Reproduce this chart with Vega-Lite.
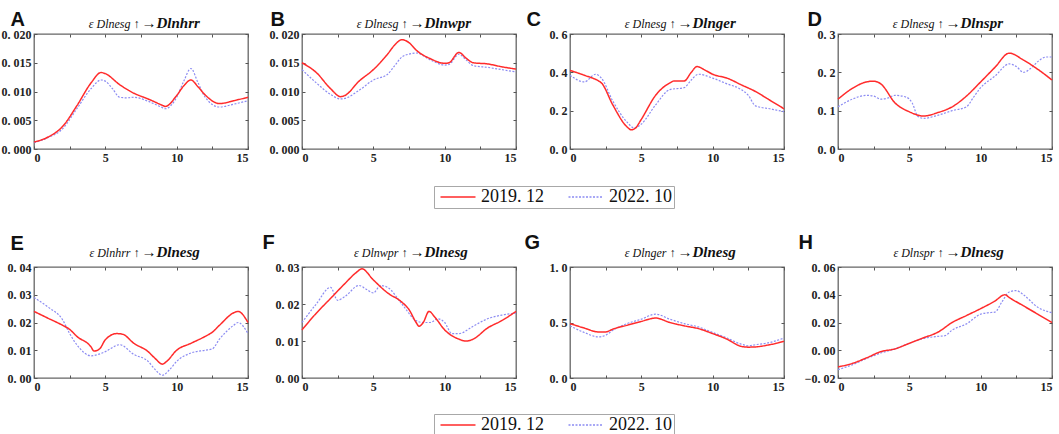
{
  "$schema": "https://vega.github.io/schema/vega-lite/v6.json",
  "description": "Eight small line charts (A-H) comparing 2019.12 and 2022.10 response curves.",
  "padding": {"left": 0, "top": 8, "right": 2, "bottom": 0},
  "data": {
    "values": [
      {"p": "A", "s": "2019. 12", "x": 0, "y": 0.0012}, {"p": "A", "s": "2019. 12", "x": 1, "y": 0.0021}, {"p": "A", "s": "2019. 12", "x": 2, "y": 0.0039}, {"p": "A", "s": "2019. 12", "x": 3, "y": 0.0075}, {"p": "A", "s": "2019. 12", "x": 4, "y": 0.0115}, {"p": "A", "s": "2019. 12", "x": 4.7, "y": 0.0133}, {"p": "A", "s": "2019. 12", "x": 5, "y": 0.0131}, {"p": "A", "s": "2019. 12", "x": 6, "y": 0.0112}, {"p": "A", "s": "2019. 12", "x": 7, "y": 0.0097}, {"p": "A", "s": "2019. 12", "x": 8, "y": 0.0087}, {"p": "A", "s": "2019. 12", "x": 9, "y": 0.0076}, {"p": "A", "s": "2019. 12", "x": 9.2, "y": 0.0074}, {"p": "A", "s": "2019. 12", "x": 10, "y": 0.0093}, {"p": "A", "s": "2019. 12", "x": 10.5, "y": 0.011}, {"p": "A", "s": "2019. 12", "x": 11, "y": 0.012}, {"p": "A", "s": "2019. 12", "x": 11.5, "y": 0.0108}, {"p": "A", "s": "2019. 12", "x": 12, "y": 0.0094}, {"p": "A", "s": "2019. 12", "x": 13, "y": 0.0079}, {"p": "A", "s": "2019. 12", "x": 14, "y": 0.0084}, {"p": "A", "s": "2019. 12", "x": 15, "y": 0.009},
      {"p": "A", "s": "2022. 10", "x": 0, "y": 0.0011}, {"p": "A", "s": "2022. 10", "x": 1, "y": 0.002}, {"p": "A", "s": "2022. 10", "x": 2, "y": 0.0035}, {"p": "A", "s": "2022. 10", "x": 3, "y": 0.007}, {"p": "A", "s": "2022. 10", "x": 4, "y": 0.0105}, {"p": "A", "s": "2022. 10", "x": 4.7, "y": 0.012}, {"p": "A", "s": "2022. 10", "x": 5, "y": 0.0118}, {"p": "A", "s": "2022. 10", "x": 5.5, "y": 0.0105}, {"p": "A", "s": "2022. 10", "x": 6, "y": 0.009}, {"p": "A", "s": "2022. 10", "x": 6.5, "y": 0.0089}, {"p": "A", "s": "2022. 10", "x": 7, "y": 0.009}, {"p": "A", "s": "2022. 10", "x": 8, "y": 0.0083}, {"p": "A", "s": "2022. 10", "x": 9, "y": 0.0072}, {"p": "A", "s": "2022. 10", "x": 9.2, "y": 0.007}, {"p": "A", "s": "2022. 10", "x": 10, "y": 0.009}, {"p": "A", "s": "2022. 10", "x": 10.5, "y": 0.0118}, {"p": "A", "s": "2022. 10", "x": 11, "y": 0.014}, {"p": "A", "s": "2022. 10", "x": 11.5, "y": 0.0115}, {"p": "A", "s": "2022. 10", "x": 12, "y": 0.009}, {"p": "A", "s": "2022. 10", "x": 13, "y": 0.0073}, {"p": "A", "s": "2022. 10", "x": 14, "y": 0.0078}, {"p": "A", "s": "2022. 10", "x": 15, "y": 0.0084},

      {"p": "B", "s": "2019. 12", "x": 0, "y": 0.015}, {"p": "B", "s": "2019. 12", "x": 1, "y": 0.0133}, {"p": "B", "s": "2019. 12", "x": 2, "y": 0.0105}, {"p": "B", "s": "2019. 12", "x": 2.7, "y": 0.0091}, {"p": "B", "s": "2019. 12", "x": 3, "y": 0.0093}, {"p": "B", "s": "2019. 12", "x": 4, "y": 0.0118}, {"p": "B", "s": "2019. 12", "x": 5, "y": 0.0138}, {"p": "B", "s": "2019. 12", "x": 6, "y": 0.0165}, {"p": "B", "s": "2019. 12", "x": 6.5, "y": 0.0181}, {"p": "B", "s": "2019. 12", "x": 7, "y": 0.019}, {"p": "B", "s": "2019. 12", "x": 7.5, "y": 0.0185}, {"p": "B", "s": "2019. 12", "x": 8, "y": 0.0172}, {"p": "B", "s": "2019. 12", "x": 9, "y": 0.0157}, {"p": "B", "s": "2019. 12", "x": 10, "y": 0.0149}, {"p": "B", "s": "2019. 12", "x": 10.3, "y": 0.015}, {"p": "B", "s": "2019. 12", "x": 11, "y": 0.0168}, {"p": "B", "s": "2019. 12", "x": 11.5, "y": 0.0158}, {"p": "B", "s": "2019. 12", "x": 12, "y": 0.015}, {"p": "B", "s": "2019. 12", "x": 13, "y": 0.0148}, {"p": "B", "s": "2019. 12", "x": 14, "y": 0.0143}, {"p": "B", "s": "2019. 12", "x": 15, "y": 0.0139},
      {"p": "B", "s": "2022. 10", "x": 0, "y": 0.0138}, {"p": "B", "s": "2022. 10", "x": 1, "y": 0.0115}, {"p": "B", "s": "2022. 10", "x": 2, "y": 0.0095}, {"p": "B", "s": "2022. 10", "x": 2.7, "y": 0.0087}, {"p": "B", "s": "2022. 10", "x": 3, "y": 0.0088}, {"p": "B", "s": "2022. 10", "x": 4, "y": 0.0102}, {"p": "B", "s": "2022. 10", "x": 5, "y": 0.012}, {"p": "B", "s": "2022. 10", "x": 6, "y": 0.013}, {"p": "B", "s": "2022. 10", "x": 6.5, "y": 0.0145}, {"p": "B", "s": "2022. 10", "x": 7, "y": 0.016}, {"p": "B", "s": "2022. 10", "x": 7.5, "y": 0.0165}, {"p": "B", "s": "2022. 10", "x": 8, "y": 0.0167}, {"p": "B", "s": "2022. 10", "x": 9, "y": 0.0155}, {"p": "B", "s": "2022. 10", "x": 10, "y": 0.0146}, {"p": "B", "s": "2022. 10", "x": 10.3, "y": 0.0147}, {"p": "B", "s": "2022. 10", "x": 11, "y": 0.0165}, {"p": "B", "s": "2022. 10", "x": 11.5, "y": 0.0155}, {"p": "B", "s": "2022. 10", "x": 12, "y": 0.0145}, {"p": "B", "s": "2022. 10", "x": 13, "y": 0.0142}, {"p": "B", "s": "2022. 10", "x": 14, "y": 0.0138}, {"p": "B", "s": "2022. 10", "x": 15, "y": 0.0134},

      {"p": "C", "s": "2019. 12", "x": 0, "y": 0.41}, {"p": "C", "s": "2019. 12", "x": 1, "y": 0.385}, {"p": "C", "s": "2019. 12", "x": 2, "y": 0.355}, {"p": "C", "s": "2019. 12", "x": 2.2, "y": 0.345}, {"p": "C", "s": "2019. 12", "x": 3, "y": 0.23}, {"p": "C", "s": "2019. 12", "x": 4, "y": 0.115}, {"p": "C", "s": "2019. 12", "x": 4.3, "y": 0.1}, {"p": "C", "s": "2019. 12", "x": 4.6, "y": 0.11}, {"p": "C", "s": "2019. 12", "x": 5, "y": 0.155}, {"p": "C", "s": "2019. 12", "x": 6, "y": 0.28}, {"p": "C", "s": "2019. 12", "x": 7, "y": 0.345}, {"p": "C", "s": "2019. 12", "x": 7.3, "y": 0.355}, {"p": "C", "s": "2019. 12", "x": 8, "y": 0.355}, {"p": "C", "s": "2019. 12", "x": 8.5, "y": 0.4}, {"p": "C", "s": "2019. 12", "x": 8.9, "y": 0.43}, {"p": "C", "s": "2019. 12", "x": 9.5, "y": 0.41}, {"p": "C", "s": "2019. 12", "x": 10, "y": 0.39}, {"p": "C", "s": "2019. 12", "x": 11, "y": 0.37}, {"p": "C", "s": "2019. 12", "x": 12, "y": 0.335}, {"p": "C", "s": "2019. 12", "x": 13, "y": 0.3}, {"p": "C", "s": "2019. 12", "x": 14, "y": 0.255}, {"p": "C", "s": "2019. 12", "x": 15, "y": 0.21},
      {"p": "C", "s": "2022. 10", "x": 0, "y": 0.385}, {"p": "C", "s": "2022. 10", "x": 1, "y": 0.35}, {"p": "C", "s": "2022. 10", "x": 1.8, "y": 0.39}, {"p": "C", "s": "2022. 10", "x": 2.2, "y": 0.37}, {"p": "C", "s": "2022. 10", "x": 3, "y": 0.25}, {"p": "C", "s": "2022. 10", "x": 4, "y": 0.14}, {"p": "C", "s": "2022. 10", "x": 4.5, "y": 0.11}, {"p": "C", "s": "2022. 10", "x": 5, "y": 0.13}, {"p": "C", "s": "2022. 10", "x": 6, "y": 0.23}, {"p": "C", "s": "2022. 10", "x": 7, "y": 0.31}, {"p": "C", "s": "2022. 10", "x": 8, "y": 0.32}, {"p": "C", "s": "2022. 10", "x": 8.5, "y": 0.36}, {"p": "C", "s": "2022. 10", "x": 9, "y": 0.39}, {"p": "C", "s": "2022. 10", "x": 10, "y": 0.37}, {"p": "C", "s": "2022. 10", "x": 11, "y": 0.34}, {"p": "C", "s": "2022. 10", "x": 12, "y": 0.31}, {"p": "C", "s": "2022. 10", "x": 12.5, "y": 0.28}, {"p": "C", "s": "2022. 10", "x": 13, "y": 0.225}, {"p": "C", "s": "2022. 10", "x": 14, "y": 0.21}, {"p": "C", "s": "2022. 10", "x": 15, "y": 0.195},

      {"p": "D", "s": "2019. 12", "x": 0, "y": 0.13}, {"p": "D", "s": "2019. 12", "x": 1, "y": 0.158}, {"p": "D", "s": "2019. 12", "x": 2, "y": 0.175}, {"p": "D", "s": "2019. 12", "x": 2.5, "y": 0.177}, {"p": "D", "s": "2019. 12", "x": 3, "y": 0.17}, {"p": "D", "s": "2019. 12", "x": 4, "y": 0.12}, {"p": "D", "s": "2019. 12", "x": 5, "y": 0.097}, {"p": "D", "s": "2019. 12", "x": 6, "y": 0.086}, {"p": "D", "s": "2019. 12", "x": 7, "y": 0.095}, {"p": "D", "s": "2019. 12", "x": 8, "y": 0.11}, {"p": "D", "s": "2019. 12", "x": 9, "y": 0.138}, {"p": "D", "s": "2019. 12", "x": 10, "y": 0.175}, {"p": "D", "s": "2019. 12", "x": 11, "y": 0.213}, {"p": "D", "s": "2019. 12", "x": 12, "y": 0.25}, {"p": "D", "s": "2019. 12", "x": 13, "y": 0.232}, {"p": "D", "s": "2019. 12", "x": 14, "y": 0.208}, {"p": "D", "s": "2019. 12", "x": 15, "y": 0.18},
      {"p": "D", "s": "2022. 10", "x": 0, "y": 0.11}, {"p": "D", "s": "2022. 10", "x": 1, "y": 0.13}, {"p": "D", "s": "2022. 10", "x": 2, "y": 0.14}, {"p": "D", "s": "2022. 10", "x": 2.5, "y": 0.138}, {"p": "D", "s": "2022. 10", "x": 3, "y": 0.13}, {"p": "D", "s": "2022. 10", "x": 3.5, "y": 0.133}, {"p": "D", "s": "2022. 10", "x": 4, "y": 0.14}, {"p": "D", "s": "2022. 10", "x": 4.8, "y": 0.135}, {"p": "D", "s": "2022. 10", "x": 5.2, "y": 0.12}, {"p": "D", "s": "2022. 10", "x": 5.6, "y": 0.085}, {"p": "D", "s": "2022. 10", "x": 6, "y": 0.08}, {"p": "D", "s": "2022. 10", "x": 7, "y": 0.088}, {"p": "D", "s": "2022. 10", "x": 8, "y": 0.1}, {"p": "D", "s": "2022. 10", "x": 9, "y": 0.11}, {"p": "D", "s": "2022. 10", "x": 9.5, "y": 0.135}, {"p": "D", "s": "2022. 10", "x": 10, "y": 0.16}, {"p": "D", "s": "2022. 10", "x": 11, "y": 0.19}, {"p": "D", "s": "2022. 10", "x": 12, "y": 0.222}, {"p": "D", "s": "2022. 10", "x": 12.5, "y": 0.215}, {"p": "D", "s": "2022. 10", "x": 13, "y": 0.2}, {"p": "D", "s": "2022. 10", "x": 13.5, "y": 0.21}, {"p": "D", "s": "2022. 10", "x": 14, "y": 0.228}, {"p": "D", "s": "2022. 10", "x": 14.6, "y": 0.24}, {"p": "D", "s": "2022. 10", "x": 15, "y": 0.24},

      {"p": "E", "s": "2019. 12", "x": 0, "y": 0.024}, {"p": "E", "s": "2019. 12", "x": 1, "y": 0.0215}, {"p": "E", "s": "2019. 12", "x": 2, "y": 0.019}, {"p": "E", "s": "2019. 12", "x": 2.5, "y": 0.0175}, {"p": "E", "s": "2019. 12", "x": 3, "y": 0.015}, {"p": "E", "s": "2019. 12", "x": 4, "y": 0.0112}, {"p": "E", "s": "2019. 12", "x": 4.2, "y": 0.0097}, {"p": "E", "s": "2019. 12", "x": 4.6, "y": 0.0105}, {"p": "E", "s": "2019. 12", "x": 5, "y": 0.0138}, {"p": "E", "s": "2019. 12", "x": 5.8, "y": 0.016}, {"p": "E", "s": "2019. 12", "x": 6.2, "y": 0.0158}, {"p": "E", "s": "2019. 12", "x": 7, "y": 0.0125}, {"p": "E", "s": "2019. 12", "x": 8, "y": 0.0095}, {"p": "E", "s": "2019. 12", "x": 8.5, "y": 0.007}, {"p": "E", "s": "2019. 12", "x": 9, "y": 0.005}, {"p": "E", "s": "2019. 12", "x": 9.3, "y": 0.006}, {"p": "E", "s": "2019. 12", "x": 10, "y": 0.01}, {"p": "E", "s": "2019. 12", "x": 11, "y": 0.0125}, {"p": "E", "s": "2019. 12", "x": 12, "y": 0.015}, {"p": "E", "s": "2019. 12", "x": 12.5, "y": 0.0165}, {"p": "E", "s": "2019. 12", "x": 13, "y": 0.019}, {"p": "E", "s": "2019. 12", "x": 14, "y": 0.0235}, {"p": "E", "s": "2019. 12", "x": 14.3, "y": 0.024}, {"p": "E", "s": "2019. 12", "x": 15, "y": 0.02},
      {"p": "E", "s": "2022. 10", "x": 0, "y": 0.029}, {"p": "E", "s": "2022. 10", "x": 1, "y": 0.0255}, {"p": "E", "s": "2022. 10", "x": 2, "y": 0.021}, {"p": "E", "s": "2022. 10", "x": 2.5, "y": 0.016}, {"p": "E", "s": "2022. 10", "x": 3, "y": 0.012}, {"p": "E", "s": "2022. 10", "x": 4, "y": 0.008}, {"p": "E", "s": "2022. 10", "x": 4.5, "y": 0.0085}, {"p": "E", "s": "2022. 10", "x": 5, "y": 0.0095}, {"p": "E", "s": "2022. 10", "x": 6, "y": 0.012}, {"p": "E", "s": "2022. 10", "x": 7, "y": 0.0085}, {"p": "E", "s": "2022. 10", "x": 8, "y": 0.006}, {"p": "E", "s": "2022. 10", "x": 8.5, "y": 0.003}, {"p": "E", "s": "2022. 10", "x": 9, "y": 0.001}, {"p": "E", "s": "2022. 10", "x": 9.5, "y": 0.003}, {"p": "E", "s": "2022. 10", "x": 10, "y": 0.006}, {"p": "E", "s": "2022. 10", "x": 11, "y": 0.009}, {"p": "E", "s": "2022. 10", "x": 12, "y": 0.01}, {"p": "E", "s": "2022. 10", "x": 12.5, "y": 0.0105}, {"p": "E", "s": "2022. 10", "x": 13, "y": 0.014}, {"p": "E", "s": "2022. 10", "x": 14, "y": 0.019}, {"p": "E", "s": "2022. 10", "x": 14.3, "y": 0.02}, {"p": "E", "s": "2022. 10", "x": 15, "y": 0.016},

      {"p": "F", "s": "2019. 12", "x": 0, "y": 0.013}, {"p": "F", "s": "2019. 12", "x": 1, "y": 0.0175}, {"p": "F", "s": "2019. 12", "x": 2, "y": 0.0215}, {"p": "F", "s": "2019. 12", "x": 3, "y": 0.0255}, {"p": "F", "s": "2019. 12", "x": 3.8, "y": 0.0285}, {"p": "F", "s": "2019. 12", "x": 4.2, "y": 0.0295}, {"p": "F", "s": "2019. 12", "x": 5, "y": 0.0265}, {"p": "F", "s": "2019. 12", "x": 6, "y": 0.023}, {"p": "F", "s": "2019. 12", "x": 7, "y": 0.0205}, {"p": "F", "s": "2019. 12", "x": 7.5, "y": 0.0185}, {"p": "F", "s": "2019. 12", "x": 8, "y": 0.015}, {"p": "F", "s": "2019. 12", "x": 8.2, "y": 0.014}, {"p": "F", "s": "2019. 12", "x": 8.5, "y": 0.015}, {"p": "F", "s": "2019. 12", "x": 8.9, "y": 0.018}, {"p": "F", "s": "2019. 12", "x": 9.3, "y": 0.0165}, {"p": "F", "s": "2019. 12", "x": 10, "y": 0.013}, {"p": "F", "s": "2019. 12", "x": 11, "y": 0.0105}, {"p": "F", "s": "2019. 12", "x": 11.5, "y": 0.01}, {"p": "F", "s": "2019. 12", "x": 12, "y": 0.0105}, {"p": "F", "s": "2019. 12", "x": 13, "y": 0.0135}, {"p": "F", "s": "2019. 12", "x": 14, "y": 0.0155}, {"p": "F", "s": "2019. 12", "x": 15, "y": 0.018},
      {"p": "F", "s": "2022. 10", "x": 0, "y": 0.015}, {"p": "F", "s": "2022. 10", "x": 1, "y": 0.02}, {"p": "F", "s": "2022. 10", "x": 2, "y": 0.0245}, {"p": "F", "s": "2022. 10", "x": 2.5, "y": 0.021}, {"p": "F", "s": "2022. 10", "x": 3, "y": 0.022}, {"p": "F", "s": "2022. 10", "x": 4, "y": 0.025}, {"p": "F", "s": "2022. 10", "x": 4.5, "y": 0.024}, {"p": "F", "s": "2022. 10", "x": 5, "y": 0.023}, {"p": "F", "s": "2022. 10", "x": 5.5, "y": 0.025}, {"p": "F", "s": "2022. 10", "x": 6, "y": 0.0245}, {"p": "F", "s": "2022. 10", "x": 7, "y": 0.02}, {"p": "F", "s": "2022. 10", "x": 8, "y": 0.0155}, {"p": "F", "s": "2022. 10", "x": 8.5, "y": 0.015}, {"p": "F", "s": "2022. 10", "x": 9, "y": 0.015}, {"p": "F", "s": "2022. 10", "x": 9.5, "y": 0.016}, {"p": "F", "s": "2022. 10", "x": 10, "y": 0.015}, {"p": "F", "s": "2022. 10", "x": 10.5, "y": 0.012}, {"p": "F", "s": "2022. 10", "x": 11, "y": 0.012}, {"p": "F", "s": "2022. 10", "x": 12, "y": 0.014}, {"p": "F", "s": "2022. 10", "x": 13, "y": 0.016}, {"p": "F", "s": "2022. 10", "x": 14, "y": 0.017}, {"p": "F", "s": "2022. 10", "x": 15, "y": 0.0175},

      {"p": "G", "s": "2019. 12", "x": 0, "y": 0.49}, {"p": "G", "s": "2019. 12", "x": 1, "y": 0.45}, {"p": "G", "s": "2019. 12", "x": 2, "y": 0.415}, {"p": "G", "s": "2019. 12", "x": 2.5, "y": 0.415}, {"p": "G", "s": "2019. 12", "x": 3, "y": 0.44}, {"p": "G", "s": "2019. 12", "x": 4, "y": 0.475}, {"p": "G", "s": "2019. 12", "x": 5, "y": 0.51}, {"p": "G", "s": "2019. 12", "x": 6, "y": 0.54}, {"p": "G", "s": "2019. 12", "x": 7, "y": 0.5}, {"p": "G", "s": "2019. 12", "x": 8, "y": 0.47}, {"p": "G", "s": "2019. 12", "x": 9, "y": 0.445}, {"p": "G", "s": "2019. 12", "x": 10, "y": 0.4}, {"p": "G", "s": "2019. 12", "x": 11, "y": 0.35}, {"p": "G", "s": "2019. 12", "x": 12, "y": 0.285}, {"p": "G", "s": "2019. 12", "x": 12.5, "y": 0.278}, {"p": "G", "s": "2019. 12", "x": 13, "y": 0.28}, {"p": "G", "s": "2019. 12", "x": 14, "y": 0.3}, {"p": "G", "s": "2019. 12", "x": 15, "y": 0.33},
      {"p": "G", "s": "2022. 10", "x": 0, "y": 0.47}, {"p": "G", "s": "2022. 10", "x": 1, "y": 0.41}, {"p": "G", "s": "2022. 10", "x": 2, "y": 0.37}, {"p": "G", "s": "2022. 10", "x": 2.5, "y": 0.385}, {"p": "G", "s": "2022. 10", "x": 3, "y": 0.43}, {"p": "G", "s": "2022. 10", "x": 4, "y": 0.49}, {"p": "G", "s": "2022. 10", "x": 5, "y": 0.53}, {"p": "G", "s": "2022. 10", "x": 6, "y": 0.575}, {"p": "G", "s": "2022. 10", "x": 7, "y": 0.53}, {"p": "G", "s": "2022. 10", "x": 8, "y": 0.49}, {"p": "G", "s": "2022. 10", "x": 9, "y": 0.46}, {"p": "G", "s": "2022. 10", "x": 10, "y": 0.41}, {"p": "G", "s": "2022. 10", "x": 11, "y": 0.36}, {"p": "G", "s": "2022. 10", "x": 12, "y": 0.305}, {"p": "G", "s": "2022. 10", "x": 12.5, "y": 0.29}, {"p": "G", "s": "2022. 10", "x": 13, "y": 0.3}, {"p": "G", "s": "2022. 10", "x": 14, "y": 0.32}, {"p": "G", "s": "2022. 10", "x": 15, "y": 0.36},

      {"p": "H", "s": "2019. 12", "x": 0, "y": -0.012}, {"p": "H", "s": "2019. 12", "x": 1, "y": -0.0095}, {"p": "H", "s": "2019. 12", "x": 2, "y": -0.0055}, {"p": "H", "s": "2019. 12", "x": 3, "y": -0.001}, {"p": "H", "s": "2019. 12", "x": 4, "y": 0.001}, {"p": "H", "s": "2019. 12", "x": 5, "y": 0.005}, {"p": "H", "s": "2019. 12", "x": 6, "y": 0.009}, {"p": "H", "s": "2019. 12", "x": 7, "y": 0.013}, {"p": "H", "s": "2019. 12", "x": 8, "y": 0.02}, {"p": "H", "s": "2019. 12", "x": 9, "y": 0.025}, {"p": "H", "s": "2019. 12", "x": 10, "y": 0.03}, {"p": "H", "s": "2019. 12", "x": 11, "y": 0.0355}, {"p": "H", "s": "2019. 12", "x": 11.7, "y": 0.04}, {"p": "H", "s": "2019. 12", "x": 12, "y": 0.038}, {"p": "H", "s": "2019. 12", "x": 13, "y": 0.032}, {"p": "H", "s": "2019. 12", "x": 14, "y": 0.026}, {"p": "H", "s": "2019. 12", "x": 15, "y": 0.02},
      {"p": "H", "s": "2022. 10", "x": 0, "y": -0.014}, {"p": "H", "s": "2022. 10", "x": 1, "y": -0.0105}, {"p": "H", "s": "2022. 10", "x": 2, "y": -0.006}, {"p": "H", "s": "2022. 10", "x": 3, "y": -0.002}, {"p": "H", "s": "2022. 10", "x": 4, "y": 0.001}, {"p": "H", "s": "2022. 10", "x": 5, "y": 0.005}, {"p": "H", "s": "2022. 10", "x": 6, "y": 0.0085}, {"p": "H", "s": "2022. 10", "x": 7, "y": 0.01}, {"p": "H", "s": "2022. 10", "x": 7.5, "y": 0.0105}, {"p": "H", "s": "2022. 10", "x": 8, "y": 0.0145}, {"p": "H", "s": "2022. 10", "x": 9, "y": 0.019}, {"p": "H", "s": "2022. 10", "x": 10, "y": 0.026}, {"p": "H", "s": "2022. 10", "x": 10.5, "y": 0.027}, {"p": "H", "s": "2022. 10", "x": 11, "y": 0.0275}, {"p": "H", "s": "2022. 10", "x": 11.5, "y": 0.035}, {"p": "H", "s": "2022. 10", "x": 12, "y": 0.042}, {"p": "H", "s": "2022. 10", "x": 12.5, "y": 0.043}, {"p": "H", "s": "2022. 10", "x": 13, "y": 0.04}, {"p": "H", "s": "2022. 10", "x": 14, "y": 0.031}, {"p": "H", "s": "2022. 10", "x": 15, "y": 0.027}
    ]
  },
  "vconcat": [
    {
      "spacing": 54,
      "bounds": "flush",
      "hconcat": [
        {
          "width": 214, "height": 115,
          "transform": [{"filter": "datum.p === 'A'"}],
          "encoding": {
            "color": {"field": "s", "type": "nominal", "scale": {"domain": ["2019. 12", "2022. 10"], "range": ["#ff2b2b", "#8c8cf2"]}, "legend": {"orient": "none", "legendX": 400, "legendY": 152}},
            "strokeDash": {"field": "s", "type": "nominal", "scale": {"domain": ["2019. 12", "2022. 10"], "range": [[1, 0], [2, 1.5]]}, "legend": {"orient": "none", "legendX": 400, "legendY": 152}}
          },
          "layer": [
            {
              "transform": [{"filter": "datum.s === '2022. 10'"}],
              "mark": {"type": "line", "interpolate": "monotone", "strokeWidth": 1.2},
              "encoding": {
                "x": {"field": "x", "type": "quantitative", "scale": {"domain": [0, 15], "nice": false}, "axis": {"orient": "top", "values": [0, 2.5, 5, 7.5, 10, 12.5, 15], "labels": false, "title": "→Dlnhrr", "titleX": 107, "titleY": -7, "titleAlign": "left", "titleBaseline": "alphabetic", "titleFont": "Liberation Serif", "titleFontStyle": "italic", "titleFontWeight": "bold", "titleFontSize": 15}},
                "y": {"field": "y", "type": "quantitative", "scale": {"domain": [0, 0.02], "nice": false}, "axis": {"orient": "right", "values": [0, 0.005, 0.01, 0.015, 0.02], "labels": false, "title": "ε Dlnesg ↑", "titleAngle": 0, "titleX": -109, "titleY": -7, "titleAlign": "right", "titleBaseline": "alphabetic", "titleFont": "Liberation Serif", "titleFontStyle": "italic", "titleFontWeight": "normal", "titleFontSize": 12}}
              }
            },
            {
              "transform": [{"filter": "datum.s === '2019. 12'"}],
              "mark": {"type": "line", "interpolate": "monotone", "strokeWidth": 1.5},
              "encoding": {
                "x": {"field": "x", "type": "quantitative", "scale": {"domain": [0, 15], "nice": false}, "axis": {"orient": "bottom", "values": [0, 2.5, 5, 7.5, 10, 12.5, 15], "labelExpr": "datum.value % 5 === 0 ? datum.label : ''", "title": null}},
                "y": {"field": "y", "type": "quantitative", "scale": {"domain": [0, 0.02], "nice": false}, "axis": {"orient": "left", "values": [0, 0.005, 0.01, 0.015, 0.02], "labelExpr": "replace(format(datum.value, '.3f'), '.', '. ')", "title": "A", "titleAngle": 0, "titleX": -24, "titleY": -9, "titleAlign": "left", "titleBaseline": "alphabetic", "titleFont": "Liberation Sans", "titleFontWeight": "bold", "titleFontSize": 20}}
              }
            }
          ],
          "resolve": {"axis": {"x": "independent", "y": "independent"}}
        },
        {
          "width": 214, "height": 115,
          "transform": [{"filter": "datum.p === 'B'"}],
          "encoding": {
            "color": {"field": "s", "type": "nominal", "scale": {"domain": ["2019. 12", "2022. 10"], "range": ["#ff2b2b", "#8c8cf2"]}},
            "strokeDash": {"field": "s", "type": "nominal", "scale": {"domain": ["2019. 12", "2022. 10"], "range": [[1, 0], [2, 1.5]]}}
          },
          "layer": [
            {
              "transform": [{"filter": "datum.s === '2022. 10'"}],
              "mark": {"type": "line", "interpolate": "monotone", "strokeWidth": 1.2},
              "encoding": {
                "x": {"field": "x", "type": "quantitative", "scale": {"domain": [0, 15], "nice": false}, "axis": {"orient": "top", "values": [0, 2.5, 5, 7.5, 10, 12.5, 15], "labels": false, "title": "→Dlnwpr", "titleX": 107, "titleY": -7, "titleAlign": "left", "titleBaseline": "alphabetic", "titleFont": "Liberation Serif", "titleFontStyle": "italic", "titleFontWeight": "bold", "titleFontSize": 15}},
                "y": {"field": "y", "type": "quantitative", "scale": {"domain": [0, 0.02], "nice": false}, "axis": {"orient": "right", "values": [0, 0.005, 0.01, 0.015, 0.02], "labels": false, "title": "ε Dlnesg ↑", "titleAngle": 0, "titleX": -109, "titleY": -7, "titleAlign": "right", "titleBaseline": "alphabetic", "titleFont": "Liberation Serif", "titleFontStyle": "italic", "titleFontWeight": "normal", "titleFontSize": 12}}
              }
            },
            {
              "transform": [{"filter": "datum.s === '2019. 12'"}],
              "mark": {"type": "line", "interpolate": "monotone", "strokeWidth": 1.5},
              "encoding": {
                "x": {"field": "x", "type": "quantitative", "scale": {"domain": [0, 15], "nice": false}, "axis": {"orient": "bottom", "values": [0, 2.5, 5, 7.5, 10, 12.5, 15], "labelExpr": "datum.value % 5 === 0 ? datum.label : ''", "title": null}},
                "y": {"field": "y", "type": "quantitative", "scale": {"domain": [0, 0.02], "nice": false}, "axis": {"orient": "left", "values": [0, 0.005, 0.01, 0.015, 0.02], "labelExpr": "replace(format(datum.value, '.3f'), '.', '. ')", "title": "B", "titleAngle": 0, "titleX": -32, "titleY": -9, "titleAlign": "left", "titleBaseline": "alphabetic", "titleFont": "Liberation Sans", "titleFontWeight": "bold", "titleFontSize": 20}}
              }
            }
          ],
          "resolve": {"axis": {"x": "independent", "y": "independent"}}
        },
        {
          "width": 214, "height": 115,
          "transform": [{"filter": "datum.p === 'C'"}],
          "encoding": {
            "color": {"field": "s", "type": "nominal", "scale": {"domain": ["2019. 12", "2022. 10"], "range": ["#ff2b2b", "#8c8cf2"]}},
            "strokeDash": {"field": "s", "type": "nominal", "scale": {"domain": ["2019. 12", "2022. 10"], "range": [[1, 0], [2, 1.5]]}}
          },
          "layer": [
            {
              "transform": [{"filter": "datum.s === '2022. 10'"}],
              "mark": {"type": "line", "interpolate": "monotone", "strokeWidth": 1.2},
              "encoding": {
                "x": {"field": "x", "type": "quantitative", "scale": {"domain": [0, 15], "nice": false}, "axis": {"orient": "top", "values": [0, 2.5, 5, 7.5, 10, 12.5, 15], "labels": false, "title": "→Dlnger", "titleX": 107, "titleY": -7, "titleAlign": "left", "titleBaseline": "alphabetic", "titleFont": "Liberation Serif", "titleFontStyle": "italic", "titleFontWeight": "bold", "titleFontSize": 15}},
                "y": {"field": "y", "type": "quantitative", "scale": {"domain": [0, 0.6], "nice": false}, "axis": {"orient": "right", "values": [0, 0.2, 0.4, 0.6], "labels": false, "title": "ε Dlnesg ↑", "titleAngle": 0, "titleX": -109, "titleY": -7, "titleAlign": "right", "titleBaseline": "alphabetic", "titleFont": "Liberation Serif", "titleFontStyle": "italic", "titleFontWeight": "normal", "titleFontSize": 12}}
              }
            },
            {
              "transform": [{"filter": "datum.s === '2019. 12'"}],
              "mark": {"type": "line", "interpolate": "monotone", "strokeWidth": 1.5},
              "encoding": {
                "x": {"field": "x", "type": "quantitative", "scale": {"domain": [0, 15], "nice": false}, "axis": {"orient": "bottom", "values": [0, 2.5, 5, 7.5, 10, 12.5, 15], "labelExpr": "datum.value % 5 === 0 ? datum.label : ''", "title": null}},
                "y": {"field": "y", "type": "quantitative", "scale": {"domain": [0, 0.6], "nice": false}, "axis": {"orient": "left", "values": [0, 0.2, 0.4, 0.6], "labelExpr": "replace(format(datum.value, '.1f'), '.', '. ')", "title": "C", "titleAngle": 0, "titleX": -44, "titleY": -9, "titleAlign": "left", "titleBaseline": "alphabetic", "titleFont": "Liberation Sans", "titleFontWeight": "bold", "titleFontSize": 20}}
              }
            }
          ],
          "resolve": {"axis": {"x": "independent", "y": "independent"}}
        },
        {
          "width": 214, "height": 115,
          "transform": [{"filter": "datum.p === 'D'"}],
          "encoding": {
            "color": {"field": "s", "type": "nominal", "scale": {"domain": ["2019. 12", "2022. 10"], "range": ["#ff2b2b", "#8c8cf2"]}},
            "strokeDash": {"field": "s", "type": "nominal", "scale": {"domain": ["2019. 12", "2022. 10"], "range": [[1, 0], [2, 1.5]]}}
          },
          "layer": [
            {
              "transform": [{"filter": "datum.s === '2022. 10'"}],
              "mark": {"type": "line", "interpolate": "monotone", "strokeWidth": 1.2},
              "encoding": {
                "x": {"field": "x", "type": "quantitative", "scale": {"domain": [0, 15], "nice": false}, "axis": {"orient": "top", "values": [0, 2.5, 5, 7.5, 10, 12.5, 15], "labels": false, "title": "→Dlnspr", "titleX": 107, "titleY": -7, "titleAlign": "left", "titleBaseline": "alphabetic", "titleFont": "Liberation Serif", "titleFontStyle": "italic", "titleFontWeight": "bold", "titleFontSize": 15}},
                "y": {"field": "y", "type": "quantitative", "scale": {"domain": [0, 0.3], "nice": false}, "axis": {"orient": "right", "values": [0, 0.1, 0.2, 0.3], "labels": false, "title": "ε Dlnesg ↑", "titleAngle": 0, "titleX": -109, "titleY": -7, "titleAlign": "right", "titleBaseline": "alphabetic", "titleFont": "Liberation Serif", "titleFontStyle": "italic", "titleFontWeight": "normal", "titleFontSize": 12}}
              }
            },
            {
              "transform": [{"filter": "datum.s === '2019. 12'"}],
              "mark": {"type": "line", "interpolate": "monotone", "strokeWidth": 1.5},
              "encoding": {
                "x": {"field": "x", "type": "quantitative", "scale": {"domain": [0, 15], "nice": false}, "axis": {"orient": "bottom", "values": [0, 2.5, 5, 7.5, 10, 12.5, 15], "labelExpr": "datum.value % 5 === 0 ? datum.label : ''", "title": null}},
                "y": {"field": "y", "type": "quantitative", "scale": {"domain": [0, 0.3], "nice": false}, "axis": {"orient": "left", "values": [0, 0.1, 0.2, 0.3], "labelExpr": "replace(format(datum.value, '.1f'), '.', '. ')", "title": "D", "titleAngle": 0, "titleX": -31, "titleY": -9, "titleAlign": "left", "titleBaseline": "alphabetic", "titleFont": "Liberation Sans", "titleFontWeight": "bold", "titleFontSize": 20}}
              }
            }
          ],
          "resolve": {"axis": {"x": "independent", "y": "independent"}}
        }
      ]
    },
    {
      "spacing": 54,
      "bounds": "flush",
      "hconcat": [
        {
          "width": 214, "height": 111,
          "transform": [{"filter": "datum.p === 'E'"}],
          "encoding": {
            "color": {"field": "s", "type": "nominal", "scale": {"domain": ["2019. 12", "2022. 10"], "range": ["#ff2b2b", "#8c8cf2"]}, "legend": {"orient": "none", "legendX": 400, "legendY": 147}},
            "strokeDash": {"field": "s", "type": "nominal", "scale": {"domain": ["2019. 12", "2022. 10"], "range": [[1, 0], [2, 1.5]]}, "legend": {"orient": "none", "legendX": 400, "legendY": 147}}
          },
          "layer": [
            {
              "transform": [{"filter": "datum.s === '2022. 10'"}],
              "mark": {"type": "line", "interpolate": "monotone", "strokeWidth": 1.2},
              "encoding": {
                "x": {"field": "x", "type": "quantitative", "scale": {"domain": [0, 15], "nice": false}, "axis": {"orient": "top", "values": [0, 2.5, 5, 7.5, 10, 12.5, 15], "labels": false, "title": "→Dlnesg", "titleX": 107, "titleY": -11, "titleAlign": "left", "titleBaseline": "alphabetic", "titleFont": "Liberation Serif", "titleFontStyle": "italic", "titleFontWeight": "bold", "titleFontSize": 15}},
                "y": {"field": "y", "type": "quantitative", "scale": {"domain": [0, 0.04], "nice": false}, "axis": {"orient": "right", "values": [0, 0.01, 0.02, 0.03, 0.04], "labels": false, "title": "ε Dlnhrr ↑", "titleAngle": 0, "titleX": -109, "titleY": -11, "titleAlign": "right", "titleBaseline": "alphabetic", "titleFont": "Liberation Serif", "titleFontStyle": "italic", "titleFontWeight": "normal", "titleFontSize": 12}}
              }
            },
            {
              "transform": [{"filter": "datum.s === '2019. 12'"}],
              "mark": {"type": "line", "interpolate": "monotone", "strokeWidth": 1.5},
              "encoding": {
                "x": {"field": "x", "type": "quantitative", "scale": {"domain": [0, 15], "nice": false}, "axis": {"orient": "bottom", "values": [0, 2.5, 5, 7.5, 10, 12.5, 15], "labelExpr": "datum.value % 5 === 0 ? datum.label : ''", "title": null}},
                "y": {"field": "y", "type": "quantitative", "scale": {"domain": [0, 0.04], "nice": false}, "axis": {"orient": "left", "values": [0, 0.01, 0.02, 0.03, 0.04], "labelExpr": "replace(format(datum.value, '.2f'), '.', '. ')", "title": "E", "titleAngle": 0, "titleX": -24, "titleY": -18, "titleAlign": "left", "titleBaseline": "alphabetic", "titleFont": "Liberation Sans", "titleFontWeight": "bold", "titleFontSize": 20}}
              }
            }
          ],
          "resolve": {"axis": {"x": "independent", "y": "independent"}}
        },
        {
          "width": 214, "height": 111,
          "transform": [{"filter": "datum.p === 'F'"}],
          "encoding": {
            "color": {"field": "s", "type": "nominal", "scale": {"domain": ["2019. 12", "2022. 10"], "range": ["#ff2b2b", "#8c8cf2"]}},
            "strokeDash": {"field": "s", "type": "nominal", "scale": {"domain": ["2019. 12", "2022. 10"], "range": [[1, 0], [2, 1.5]]}}
          },
          "layer": [
            {
              "transform": [{"filter": "datum.s === '2022. 10'"}],
              "mark": {"type": "line", "interpolate": "monotone", "strokeWidth": 1.2},
              "encoding": {
                "x": {"field": "x", "type": "quantitative", "scale": {"domain": [0, 15], "nice": false}, "axis": {"orient": "top", "values": [0, 2.5, 5, 7.5, 10, 12.5, 15], "labels": false, "title": "→Dlnesg", "titleX": 107, "titleY": -11, "titleAlign": "left", "titleBaseline": "alphabetic", "titleFont": "Liberation Serif", "titleFontStyle": "italic", "titleFontWeight": "bold", "titleFontSize": 15}},
                "y": {"field": "y", "type": "quantitative", "scale": {"domain": [0, 0.03], "nice": false}, "axis": {"orient": "right", "values": [0, 0.01, 0.02, 0.03], "labels": false, "title": "ε Dlnwpr ↑", "titleAngle": 0, "titleX": -109, "titleY": -11, "titleAlign": "right", "titleBaseline": "alphabetic", "titleFont": "Liberation Serif", "titleFontStyle": "italic", "titleFontWeight": "normal", "titleFontSize": 12}}
              }
            },
            {
              "transform": [{"filter": "datum.s === '2019. 12'"}],
              "mark": {"type": "line", "interpolate": "monotone", "strokeWidth": 1.5},
              "encoding": {
                "x": {"field": "x", "type": "quantitative", "scale": {"domain": [0, 15], "nice": false}, "axis": {"orient": "bottom", "values": [0, 2.5, 5, 7.5, 10, 12.5, 15], "labelExpr": "datum.value % 5 === 0 ? datum.label : ''", "title": null}},
                "y": {"field": "y", "type": "quantitative", "scale": {"domain": [0, 0.03], "nice": false}, "axis": {"orient": "left", "values": [0, 0.01, 0.02, 0.03], "labelExpr": "replace(format(datum.value, '.2f'), '.', '. ')", "title": "F", "titleAngle": 0, "titleX": -40, "titleY": -19, "titleAlign": "left", "titleBaseline": "alphabetic", "titleFont": "Liberation Sans", "titleFontWeight": "bold", "titleFontSize": 20}}
              }
            }
          ],
          "resolve": {"axis": {"x": "independent", "y": "independent"}}
        },
        {
          "width": 214, "height": 111,
          "transform": [{"filter": "datum.p === 'G'"}],
          "encoding": {
            "color": {"field": "s", "type": "nominal", "scale": {"domain": ["2019. 12", "2022. 10"], "range": ["#ff2b2b", "#8c8cf2"]}},
            "strokeDash": {"field": "s", "type": "nominal", "scale": {"domain": ["2019. 12", "2022. 10"], "range": [[1, 0], [2, 1.5]]}}
          },
          "layer": [
            {
              "transform": [{"filter": "datum.s === '2022. 10'"}],
              "mark": {"type": "line", "interpolate": "monotone", "strokeWidth": 1.2},
              "encoding": {
                "x": {"field": "x", "type": "quantitative", "scale": {"domain": [0, 15], "nice": false}, "axis": {"orient": "top", "values": [0, 2.5, 5, 7.5, 10, 12.5, 15], "labels": false, "title": "→Dlnesg", "titleX": 107, "titleY": -11, "titleAlign": "left", "titleBaseline": "alphabetic", "titleFont": "Liberation Serif", "titleFontStyle": "italic", "titleFontWeight": "bold", "titleFontSize": 15}},
                "y": {"field": "y", "type": "quantitative", "scale": {"domain": [0, 1], "nice": false}, "axis": {"orient": "right", "values": [0, 0.5, 1], "labels": false, "title": "ε Dlnger ↑", "titleAngle": 0, "titleX": -109, "titleY": -11, "titleAlign": "right", "titleBaseline": "alphabetic", "titleFont": "Liberation Serif", "titleFontStyle": "italic", "titleFontWeight": "normal", "titleFontSize": 12}}
              }
            },
            {
              "transform": [{"filter": "datum.s === '2019. 12'"}],
              "mark": {"type": "line", "interpolate": "monotone", "strokeWidth": 1.5},
              "encoding": {
                "x": {"field": "x", "type": "quantitative", "scale": {"domain": [0, 15], "nice": false}, "axis": {"orient": "bottom", "values": [0, 2.5, 5, 7.5, 10, 12.5, 15], "labelExpr": "datum.value % 5 === 0 ? datum.label : ''", "title": null}},
                "y": {"field": "y", "type": "quantitative", "scale": {"domain": [0, 1], "nice": false}, "axis": {"orient": "left", "values": [0, 0.5, 1], "labelExpr": "replace(format(datum.value, '.1f'), '.', '. ')", "title": "G", "titleAngle": 0, "titleX": -46, "titleY": -19, "titleAlign": "left", "titleBaseline": "alphabetic", "titleFont": "Liberation Sans", "titleFontWeight": "bold", "titleFontSize": 20}}
              }
            }
          ],
          "resolve": {"axis": {"x": "independent", "y": "independent"}}
        },
        {
          "width": 214, "height": 111,
          "transform": [{"filter": "datum.p === 'H'"}],
          "encoding": {
            "color": {"field": "s", "type": "nominal", "scale": {"domain": ["2019. 12", "2022. 10"], "range": ["#ff2b2b", "#8c8cf2"]}},
            "strokeDash": {"field": "s", "type": "nominal", "scale": {"domain": ["2019. 12", "2022. 10"], "range": [[1, 0], [2, 1.5]]}}
          },
          "layer": [
            {
              "transform": [{"filter": "datum.s === '2022. 10'"}],
              "mark": {"type": "line", "interpolate": "monotone", "strokeWidth": 1.2},
              "encoding": {
                "x": {"field": "x", "type": "quantitative", "scale": {"domain": [0, 15], "nice": false}, "axis": {"orient": "top", "values": [0, 2.5, 5, 7.5, 10, 12.5, 15], "labels": false, "title": "→Dlnesg", "titleX": 107, "titleY": -11, "titleAlign": "left", "titleBaseline": "alphabetic", "titleFont": "Liberation Serif", "titleFontStyle": "italic", "titleFontWeight": "bold", "titleFontSize": 15}},
                "y": {"field": "y", "type": "quantitative", "scale": {"domain": [-0.02, 0.06], "nice": false}, "axis": {"orient": "right", "values": [-0.02, 0, 0.02, 0.04, 0.06], "labels": false, "title": "ε Dlnspr ↑", "titleAngle": 0, "titleX": -109, "titleY": -11, "titleAlign": "right", "titleBaseline": "alphabetic", "titleFont": "Liberation Serif", "titleFontStyle": "italic", "titleFontWeight": "normal", "titleFontSize": 12}}
              }
            },
            {
              "transform": [{"filter": "datum.s === '2019. 12'"}],
              "mark": {"type": "line", "interpolate": "monotone", "strokeWidth": 1.5},
              "encoding": {
                "x": {"field": "x", "type": "quantitative", "scale": {"domain": [0, 15], "nice": false}, "axis": {"orient": "bottom", "values": [0, 2.5, 5, 7.5, 10, 12.5, 15], "labelExpr": "datum.value % 5 === 0 ? datum.label : ''", "title": null}},
                "y": {"field": "y", "type": "quantitative", "scale": {"domain": [-0.02, 0.06], "nice": false}, "axis": {"orient": "left", "values": [-0.02, 0, 0.02, 0.04, 0.06], "labelExpr": "replace(format(datum.value, '.2f'), '.', '. ')", "title": "H", "titleAngle": 0, "titleX": -40, "titleY": -19, "titleAlign": "left", "titleBaseline": "alphabetic", "titleFont": "Liberation Sans", "titleFontWeight": "bold", "titleFontSize": 20}}
              }
            }
          ],
          "resolve": {"axis": {"x": "independent", "y": "independent"}}
        }
      ]
    }
  ],
  "spacing": 22,
  "resolve": {
    "scale": {"color": "independent", "strokeDash": "independent"},
    "legend": {"color": "independent", "strokeDash": "independent"}
  },
  "config": {
    "view": {"stroke": "#666666", "strokeWidth": 1.3},
    "axis": {
      "grid": false,
      "domain": false,
      "tickColor": "#555555",
      "tickSize": -3,
      "labelPadding": 6,
      "labelFont": "Liberation Serif",
      "labelFontWeight": "bold",
      "labelFontSize": 12,
      "labelColor": "#222222",
      "titleColor": "#111111"
    },
    "legend": {
      "direction": "horizontal",
      "title": null,
      "symbolType": "M-3.5,0H3.5",
      "symbolSize": 100,
      "symbolOffset": 13,
      "symbolStrokeWidth": 1.5,
      "labelFont": "Liberation Serif",
      "labelFontSize": 18,
      "labelColor": "#111111",
      "labelOffset": 14,
      "columnPadding": 20,
      "padding": 2,
      "strokeColor": "#a8a8a8",
      "fillColor": "#ffffff"
    }
  }
}
